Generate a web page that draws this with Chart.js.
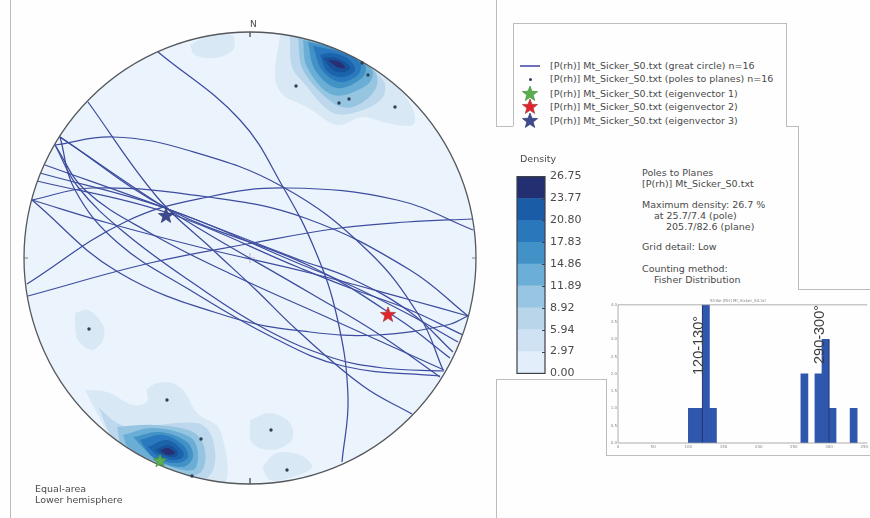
<!DOCTYPE html>
<html><head><meta charset="utf-8">
<script src="https://cdn.jsdelivr.net/npm/chart.js@4"></script>
<style>
html,body{margin:0;padding:0;background:#fefefe;overflow:hidden}
body{width:870px;height:518px;position:relative;font-family:"DejaVu Sans",sans-serif;color:#4a4a4a}
canvas{position:absolute}
.t{position:absolute;white-space:pre;font-size:9.5px;line-height:11px}
.r{position:absolute;background:#bcbcbc}
.rot{position:absolute;font-family:"Liberation Sans",sans-serif;font-size:14.5px;color:#3c3c3c;transform:rotate(-90deg);transform-origin:left top;white-space:pre}
</style></head><body>
<canvas id="net" style="left:0;top:0"></canvas>
<canvas id="bar" style="left:510px;top:165px"></canvas>
<canvas id="hist" style="left:606px;top:296px"></canvas>
<div id="deco"></div>
<script>
// Great circles (projected units, primitive radius 226)
const gc01=[[-92,206],[-10,138],[33,71],[65,8],[87,-59],[98,-139],[92,-204]];
const gc02=[[-162,156],[-93,61],[-37,8],[5,-31],[47,-72],[113,-128],[162,-156]];
const gc03=[[-195,113],[-137,121],[-63,108],[33,71],[117,8],[170,-59],[193,-112]];
const gc04=[[-223,-26],[-125,36],[-42,61],[37,70],[147,58],[223,28]];
const gc05=[[-222,-38],[-100,-5],[3,15],[90,30],[157,36],[222,39]];
const gc06=[[-218,58],[-158,70],[-42,61],[55,40],[160,-12],[218,-58]];
const gc07=[[-218,58],[-132,-14],[-20,-59],[60,-74],[127,-77],[197,-67],[218,-58]];
const gc08=[[-218,58],[-142,35],[-47,10],[60,-15],[157,-41],[218,-58]];
const gc09=[[-190,121],[-78,46],[60,-35],[127,-75],[190,-119]];
const gc10=[[-205,93],[-85,50],[50,-2],[100,-20],[160,-54],[203,-94]];
const gc11=[[-210,85],[-85,50],[50,-6],[100,-27],[160,-57],[208,-84]];
const gc12=[[-213,77],[-85,46],[50,-10],[100,-30],[160,-52],[213,-77]];
const gc13=[[-195,113],[-165,68],[-100,25],[-17,-17],[83,-62],[194,-112]];
const gc14=[[-195,113],[-172,71],[-125,25],[-57,-25],[17,-72],[83,-100],[133,-110],[194,-113]];
const gc15=[[-190,121],[-175,68],[-132,15],[-60,-32],[20,-78],[93,-108],[190,-118]];
const gc16=[[-190,121],[-80,48],[60,-8],[150,-62],[200,-100]];
const greatCircles=[gc01,gc02,gc03,gc04,gc05,gc06,gc07,gc08,gc09,gc10,gc11,gc12,gc13,gc14,gc15,gc16];

const poles=[[46,172],[89,155],[99,159],[118,183],[145,151],[112,195],[-161,-71],[-83,-142],[-49,-181],[-58,-218],[21,-172],[37,-212]];
const eigen1=[[-90,-203]];
const eigen2=[[138,-57]];
const eigen3=[[-84,42]];

// Density contours: [level index, outline]
const nL1=[[30,223],[25,181],[33,163],[57,151],[87,133],[113,141],[137,135],[163,133],[163,148],[147,171],[90,212],[57,222]];
const nL2=[[40,222],[42,191],[53,176],[83,145],[113,148],[133,161],[133,178],[90,214]];
const nL3=[[48,220],[53,188],[83,155],[103,151],[125,168],[125,186],[90,212]];
const nL4=[[53,218],[57,191],[83,163],[117,173],[122,188],[90,210]];
const nL5=[[58,216],[65,188],[87,170],[112,180],[115,193],[90,208]];
const nL6=[[63,212],[72,188],[90,176],[108,183],[110,195],[90,206]];
const nL7=[[70,203],[78,186],[93,181],[105,188],[97,200],[80,205]];
const nL8=[[73,200],[83,188],[95,186],[100,191],[87,200]];
const nL9=[[78,198],[87,191],[95,190],[90,196]];
const sL1=[[-165,-132],[-143,-134],[-117,-147],[-103,-144],[-102,-130],[-83,-124],[-67,-132],[-53,-155],[-30,-172],[-27,-228],[-85,-218],[-136,-182],[-153,-155]];
const sL2=[[-152,-149],[-133,-165],[-117,-169],[-53,-165],[-38,-179],[-37,-212],[-57,-226],[-132,-186]];
const sL3=[[-133,-169],[-97,-167],[-57,-174],[-45,-192],[-50,-215],[-80,-216],[-127,-189]];
const sL4=[[-127,-177],[-97,-170],[-60,-179],[-52,-195],[-57,-212],[-90,-205],[-122,-189]];
const sL5=[[-117,-179],[-90,-174],[-63,-184],[-57,-199],[-67,-209],[-93,-202]];
const sL6=[[-110,-182],[-87,-177],[-67,-187],[-62,-199],[-73,-205],[-97,-199]];
const sL7=[[-102,-189],[-83,-182],[-68,-192],[-67,-199],[-77,-202],[-93,-197]];
const sL8=[[-95,-192],[-82,-187],[-72,-194],[-75,-199],[-87,-197]];
const sL9=[[-90,-192],[-82,-190],[-75,-195],[-83,-197]];
const blobW=[[-175,-55],[-162,-52],[-147,-67],[-147,-82],[-158,-92],[-172,-82],[-175,-67]];
const blobSa=[[0,-162],[20,-155],[40,-165],[42,-182],[22,-192],[2,-185]];
const blobSb=[[12,-209],[27,-195],[50,-197],[62,-209],[40,-220],[20,-222]];
const blobN=[[-60,213],[-45,220],[-18,223],[-17,208],[-35,200],[-55,203]];
const contours=[[0,blobN],[0,blobW],[0,blobSa],[0,blobSb],[0,nL1],[1,nL2],[2,nL3],[3,nL4],[4,nL5],[5,nL6],[6,nL7],[7,nL8],[8,nL9],[0,sL1],[1,sL2],[2,sL3],[3,sL4],[4,sL5],[5,sL6],[6,sL7],[7,sL8],[8,sL9]];
const contourColors=['#d8e8f5','#bdd8ec','#96c5e2','#6aaed6','#4292c6','#2a78bd','#1b63ab','#17519a','#2a2f74'];

const densityLevels=[0,2.97,5.94,8.92,11.89,14.86,17.83,20.80,23.77,26.75];
const densityColors=['#e2eefa','#cfe2f3','#b8d5ea','#98c6e2','#6bafd8','#4292c8','#2a77bc','#1a5ca6','#232f70'];

const primitiveRadius=226;
const cardinalTicks=[[[0,231],[0,221]],[[0,-220],[0,-230]],[[-230,0],[-222,0]],[[222,0],[230,0]]];
const centre=[[0,0]];

// Strike histogram
const histBins=[105,115,125,135,265,285,295,305,335];
const histCounts=[1,1,4,1,2,2,3,1,1];
const histRefLines=[120,300];

const legendLabels=['[P(rh)] Mt_Sicker_S0.txt (great circle) n=16','[P(rh)] Mt_Sicker_S0.txt (poles to planes) n=16','[P(rh)] Mt_Sicker_S0.txt (eigenvector 1)','[P(rh)] Mt_Sicker_S0.txt (eigenvector 2)','[P(rh)] Mt_Sicker_S0.txt (eigenvector 3)'];
const infoLines=[['Poles to Planes',642,167],['[P(rh)] Mt_Sicker_S0.txt',642,178],['Maximum density: 26.7 %',642,199],['at 25.7/7.4 (pole)',654,210],['205.7/82.6 (plane)',666,221],['Grid detail: Low',642,241],['Counting method:',642,263],['Fisher Distribution',654,274]];
const rules=[[10,0,1,518],[496,0,1,126],[496,126,17,1],[513,23,1,103],[513,23,273,1],[786,23,1,103],[786,126,12,1],[798,126,1,163],[798,289,72,1],[496,379,110,1],[496,379,1,139],[606,379,1,76],[606,455,264,1]];

const pts=a=>a.map(p=>({x:p[0],y:p[1]}));
function starCanvas(fill,edge,R){
  const c=document.createElement('canvas');c.width=c.height=2*R+2;
  const g=c.getContext('2d');g.beginPath();
  for(let i=0;i<10;i++){const r=i%2?R*0.42:R,a=-Math.PI/2+i*Math.PI/5;g.lineTo(R+1+r*Math.cos(a),R+1+r*Math.sin(a));}
  g.closePath();g.fillStyle=fill;g.fill();g.strokeStyle=edge;g.lineWidth=0.7;g.stroke();return c;
}
const lineColor='#3d4c9e';
const datasets=[];
datasets.push({label:'eigenvector 3',data:pts(eigen3),pointStyle:starCanvas('#3c4a8e','#333a70',8),order:0,showLine:false});
datasets.push({label:'eigenvector 2',data:pts(eigen2),pointStyle:starCanvas('#e3232c','#a04040',8),order:0,showLine:false});
datasets.push({label:'eigenvector 1',data:pts(eigen1),pointStyle:starCanvas('#58b04c','#4a8a44',7),order:0,showLine:false});
datasets.push({label:'poles',data:pts(poles),pointRadius:1.7,backgroundColor:'#2f3f55',borderWidth:0,showLine:false,order:1});
greatCircles.forEach((g,i)=>datasets.push({label:'gc'+i,data:pts(g),showLine:true,borderColor:lineColor,borderWidth:1.25,pointRadius:0,tension:0.4,fill:false,order:2}));
cardinalTicks.forEach((t,i)=>datasets.push({label:'tick'+i,data:pts(t),showLine:true,borderColor:'#666',borderWidth:0.8,pointRadius:0,order:3}));
datasets.push({label:'centre',data:pts(centre),pointStyle:'cross',pointRadius:5,borderColor:'#aab',borderWidth:0.8,showLine:false,order:3});
contours.forEach((c,i)=>{const poly=pts(c[1]);poly.push(poly[0]);
  datasets.push({label:'c'+i,data:poly,showLine:true,borderWidth:0,borderColor:'rgba(0,0,0,0)',backgroundColor:contourColors[c[0]],fill:'shape',tension:0.35,pointRadius:0,order:100-i});});

const disc={id:'disc',
  beforeDatasetsDraw(ch){const {ctx,scales:{x,y}}=ch;const cx=x.getPixelForValue(0),cy=y.getPixelForValue(0),r=x.getPixelForValue(primitiveRadius)-cx;
    ctx.save();ctx.beginPath();ctx.arc(cx,cy,r,0,2*Math.PI);ctx.fillStyle='#ebf4fc';ctx.fill();ctx.clip();},
  afterDatasetDraw(ch,args){
    if(ch.data.datasets[args.index].label==='gc0'){const {ctx,scales:{x,y}}=ch;ctx.restore();
      const cx=x.getPixelForValue(0),cy=y.getPixelForValue(0),r=x.getPixelForValue(primitiveRadius)-cx;
      ctx.beginPath();ctx.arc(cx,cy,r,0,2*Math.PI);ctx.strokeStyle='#55585c';ctx.lineWidth=1.3;ctx.stroke();ctx.save();}},
  afterDatasetsDraw(ch){ch.ctx.restore();}};

const net=document.getElementById('net');net.width=496;net.height=518;
new Chart(net,{type:'scatter',data:{datasets},plugins:[disc],options:{responsive:false,animation:false,
  layout:{padding:0,autoPadding:false},plugins:{legend:{display:false},tooltip:{enabled:false}},
  scales:{x:{type:'linear',display:false,min:-250,max:246},y:{type:'linear',display:false,min:-260,max:258}},
  datasets:{scatter:{clip:false}}}});

// Colour bar
const bar=document.getElementById('bar');bar.width=75;bar.height=220;
const barSets=densityColors.map((c,i)=>({data:[[densityLevels[i],densityLevels[i+1]]],backgroundColor:c,borderWidth:0,barPercentage:1,categoryPercentage:1}));
const barFrame={id:'barFrame',afterDatasetsDraw(ch){const {ctx,chartArea:a,scales:{y}}=ch;ctx.save();
  ctx.strokeStyle='#3d4048';ctx.lineWidth=1;
  densityLevels.slice(1,-1).forEach(v=>{const p=Math.round(y.getPixelForValue(v))+.5;ctx.beginPath();ctx.moveTo(a.right-3,p);ctx.lineTo(a.right,p);ctx.stroke();});
  ctx.lineWidth=1.2;ctx.strokeRect(a.left,a.top,a.right-a.left,a.bottom-a.top);ctx.restore();}};
new Chart(bar,{type:'bar',data:{labels:['Density'],datasets:barSets},plugins:[barFrame],options:{responsive:false,animation:false,
  layout:{padding:{left:7,top:10,bottom:9,right:4},autoPadding:false},
  plugins:{legend:{display:false},tooltip:{enabled:false}},
  scales:{x:{stacked:true,display:false},
    y:{position:'right',stacked:false,min:0,max:26.75,grid:{display:false,drawTicks:false},border:{display:false},
       afterFit(s){s.width=36;},
       afterBuildTicks(s){s.ticks=densityLevels.map(v=>({value:v}));},
       ticks:{autoSkip:false,padding:5,color:'#4a4a4a',font:{family:'DejaVu Sans',size:11},callback:v=>Number(v).toFixed(2)}}}}});

// Histogram
const hist=document.getElementById('hist');hist.width=264;hist.height=159;
const histDeco={id:'histDeco',afterDatasetsDraw(ch){const {ctx,chartArea:a,scales:{x,y}}=ch;ctx.save();ctx.strokeStyle='#26305e';ctx.lineWidth=0.8;
  histRefLines.forEach(v=>{const p=x.getPixelForValue(v);ctx.beginPath();ctx.moveTo(p,y.getPixelForValue(v===120?4:3));ctx.lineTo(p,a.bottom);ctx.stroke();});
  ctx.strokeStyle='#9a9a9a';ctx.lineWidth=0.8;ctx.beginPath();ctx.moveTo(a.left,a.bottom);ctx.lineTo(a.left,a.top);ctx.lineTo(a.right,a.top);ctx.moveTo(a.left,a.bottom);ctx.lineTo(a.right,a.bottom);ctx.stroke();ctx.restore();}};
new Chart(hist,{type:'bar',data:{datasets:[{data:histBins.map((b,i)=>({x:b,y:histCounts[i]})),backgroundColor:'#2f57ad',borderWidth:0,barPercentage:1,categoryPercentage:1}]},plugins:[histDeco],
  options:{responsive:false,animation:false,layout:{padding:0,autoPadding:false},
  plugins:{legend:{display:false},tooltip:{enabled:false},title:{display:true,text:'Strike [RH] Mt_Sicker_S0.txt',color:'#888',font:{family:'DejaVu Sans',size:4,weight:'normal'},padding:{top:3,bottom:1}}},
  scales:{x:{type:'linear',offset:false,min:0,max:354.5,grid:{display:false,drawTicks:false},border:{display:false},afterFit(s){s.height=12;},
      ticks:{stepSize:50,includeBounds:false,autoSkip:false,maxRotation:0,color:'#888',padding:2,font:{family:'DejaVu Sans',size:4}}},
    y:{min:0,max:4,grid:{display:false,drawTicks:false},border:{display:false},afterFit(s){s.width=12;},
      ticks:{stepSize:0.5,autoSkip:false,color:'#888',padding:1,font:{family:'DejaVu Sans',size:4},callback:v=>Number(v).toFixed(1)}}}}});

// Text, legend and panel edges
const deco=document.getElementById('deco');
function text(s,x,y,extra){const d=document.createElement('div');d.className='t';d.textContent=s;d.style.left=x+'px';d.style.top=y+'px';if(extra)Object.assign(d.style,extra);deco.appendChild(d);return d;}
rules.forEach(r=>{const d=document.createElement('div');d.className='r';d.style.cssText=`left:${r[0]}px;top:${r[1]}px;width:${r[2]}px;height:${r[3]}px`;deco.appendChild(d);});
const legendY=[66,79,94,107,121];
legendLabels.forEach((s,i)=>text(s,550,legendY[i]-6));
const ln=document.createElement('div');ln.className='r';ln.style.cssText='left:520px;top:65px;width:20px;height:2px;background:#6d72b8';deco.appendChild(ln);
const dot=document.createElement('div');dot.className='r';dot.style.cssText='left:529px;top:78px;width:3px;height:3px;border-radius:50%;background:#2f3f55';deco.appendChild(dot);
[['#58b04c','#4a8a44',94],['#e3232c','#a04040',107],['#3c4a8e','#333a70',121]].forEach(s=>{const c=starCanvas(s[0],s[1],8);c.style.left=(530-9)+'px';c.style.top=(s[2]-9)+'px';deco.appendChild(c);});
infoLines.forEach(l=>text(l[0],l[1],l[2]));
text('Density',520,153);
text('Equal-area',35,483);
text('Lower hemisphere',35,494);
text('N',250,19,{fontSize:'9px'});
[['120-130°',690,375],['290-300°',811,364]].forEach(a=>{const d=document.createElement('div');d.className='rot';d.textContent=a[0];d.style.left=a[1]+'px';d.style.top=a[2]+'px';deco.appendChild(d);});
</script>
</body></html>
